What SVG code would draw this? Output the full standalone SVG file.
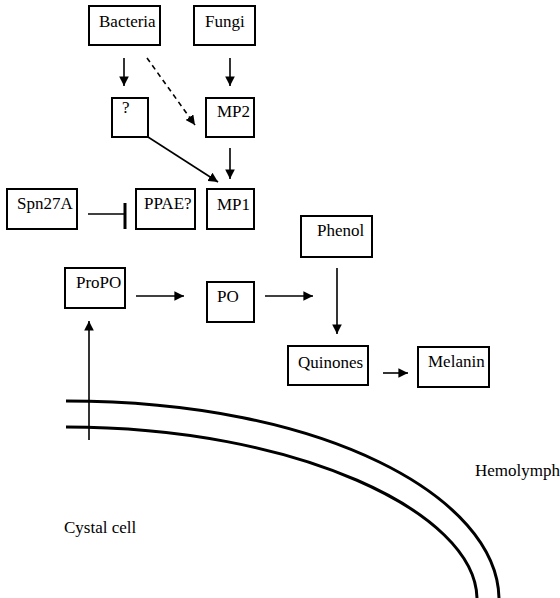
<svg xmlns="http://www.w3.org/2000/svg" width="560" height="598" viewBox="0 0 560 598">
<style>
.box{fill:#fff;stroke:#000;stroke-width:2}
.t{font-family:"Liberation Serif","Times New Roman",serif;font-size:17px;fill:#000}
.a{stroke:#000;stroke-width:1.6;fill:none;marker-end:url(#ah)}
.m{stroke:#000;stroke-width:3;fill:none}
</style>
<defs>
<marker id="ah" viewBox="0 0 10 10" refX="10" refY="5" markerWidth="6" markerHeight="6" orient="auto" markerUnits="strokeWidth">
<path d="M0,0 L10,5 L0,10 Z" fill="#000"/>
</marker>
</defs>
<rect width="560" height="598" fill="#fff"/>
<g id="membrane">
<path class="m" d="M66,401 C326,401 497,498 499,598"/>
<path class="m" d="M66,427 C296,427 475,512 477,598"/>
</g>
<g id="n-bacteria"><rect class="box" x="89" y="6" width="71" height="39"/><text class="t" x="99" y="27">Bacteria</text></g>
<g id="n-fungi"><rect class="box" x="194" y="6" width="61" height="39"/><text class="t" x="205" y="27">Fungi</text></g>
<g id="n-q"><rect class="box" x="112" y="98" width="36" height="39"/><text class="t" x="122" y="113">?</text></g>
<g id="n-mp2"><rect class="box" x="206" y="98" width="48" height="39"/><text class="t" x="217" y="117">MP2</text></g>
<g id="n-spn27a"><rect class="box" x="7" y="189" width="70" height="40"/><text class="t" x="17" y="209">Spn27A</text></g>
<g id="n-ppae"><rect class="box" x="136" y="189" width="59" height="40"/><text class="t" x="144" y="209">PPAE?</text></g>
<g id="n-mp1"><rect class="box" x="207" y="189" width="47" height="40"/><text class="t" x="217" y="210">MP1</text></g>
<g id="n-propo"><rect class="box" x="65" y="268" width="60" height="40"/><text class="t" x="76" y="288">ProPO</text></g>
<g id="n-po"><rect class="box" x="207" y="282" width="47" height="40"/><text class="t" x="217" y="302">PO</text></g>
<g id="n-phenol"><rect class="box" x="301" y="216" width="71" height="41"/><text class="t" x="317" y="236">Phenol</text></g>
<g id="n-quinones"><rect class="box" x="288" y="346" width="80" height="39"/><text class="t" x="298" y="368">Quinones</text></g>
<g id="n-melanin"><rect class="box" x="418" y="347" width="71" height="40"/><text class="t" x="428" y="367">Melanin</text></g>
<g id="labels">
<text class="t" x="475" y="476">Hemolymph</text>
<text class="t" x="64" y="533">Cystal cell</text>
</g>
<g id="connectors">
<line class="a" x1="124" y1="58" x2="124" y2="86"/>
<line class="a" x1="147" y1="58" x2="195" y2="125" stroke-dasharray="5,4"/>
<line class="a" x1="230" y1="58" x2="230" y2="86"/>
<line class="a" x1="148" y1="137" x2="218" y2="182"/>
<line class="a" x1="230" y1="148" x2="230" y2="179"/>
<line x1="88" y1="214" x2="125" y2="214" stroke="#000" stroke-width="1.6"/>
<line x1="125" y1="203" x2="125" y2="229" stroke="#000" stroke-width="3"/>
<line class="a" x1="136" y1="296" x2="184" y2="296"/>
<line class="a" x1="265" y1="296" x2="313" y2="296"/>
<line class="a" x1="337" y1="268" x2="337" y2="334"/>
<line class="a" x1="383" y1="373" x2="408" y2="373"/>
<line class="a" x1="89" y1="440" x2="89" y2="321"/>
</g>
</svg>
